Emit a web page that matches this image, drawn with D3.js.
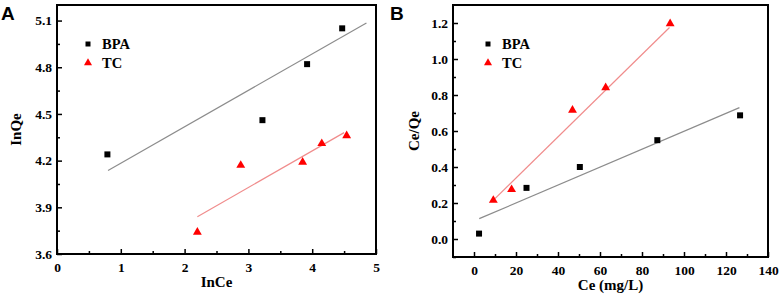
<!DOCTYPE html>
<html>
<head>
<meta charset="utf-8">
<script src="https://cdn.jsdelivr.net/npm/d3@7"></script>
<style>
  body { margin: 0; background: #fff; }
  .tick text { font-family: "Liberation Serif", "Times New Roman", serif; font-weight: bold; font-size: 13.5px; fill: #000; }
  .title { font-family: "Liberation Serif", "Times New Roman", serif; font-weight: bold; font-size: 15px; }
  .legend { font-family: "Liberation Serif", "Times New Roman", serif; font-weight: bold; font-size: 14.5px; }
  .panel { font-family: "Liberation Sans", Arial, sans-serif; font-weight: bold; font-size: 19px; }
</style>
</head>
<body>
<div id="chart"></div>
<script>
// Panel A: Freundlich (lnQe vs lnCe)
const aBpaX = [0.79, 3.22, 3.92, 4.47];
const aBpaY = [4.24, 4.46, 4.82, 5.05];
const aTcX = [2.20, 2.88, 3.85, 4.15, 4.54];
const aTcY = [3.74, 4.17, 4.19, 4.31, 4.36];
const aBpaFitX = [0.8, 4.85];
const aBpaFitY = [4.137, 5.084];
const aTcFitX = [2.2, 4.5];
const aTcFitY = [3.84, 4.38];
const aXTicks = [0, 1, 2, 3, 4, 5];
const aXMinor = [0.5, 1.5, 2.5, 3.5, 4.5];
const aYTicks = [3.6, 3.9, 4.2, 4.5, 4.8, 5.1];
const aYMinor = [3.75, 4.05, 4.35, 4.65, 4.95];

// Panel B: Langmuir (Ce/Qe vs Ce)
const bBpaX = [2.4, 25, 50.4, 87.3, 126.7];
const bBpaY = [0.03, 0.284, 0.40, 0.549, 0.687];
const bTcX = [9.2, 17.9, 46.9, 62.7, 93.4];
const bTcY = [0.215, 0.275, 0.716, 0.841, 1.196];
const bBpaFitX = [2.5, 126.4];
const bBpaFitY = [0.113, 0.73];
const bTcFitX = [9.5, 93.1];
const bTcFitY = [0.219, 1.175];
const bXTicks = [0, 20, 40, 60, 80, 100, 120, 140];
const bXMinor = [10, 30, 50, 70, 90, 110, 130];
const bYTicks = [0.0, 0.2, 0.4, 0.6, 0.8, 1.0, 1.2];
const bYMinor = [-0.1, 0.1, 0.3, 0.5, 0.7, 0.9, 1.1];

const legendNames = ["BPA", "TC"];

const svg = d3.select("#chart").append("svg")
  .attr("width", 782)
  .attr("height", 297);

const drawPanel = (p) => {
  const x = d3.scaleLinear().domain(p.xDomain).range([p.left, p.right]);
  const y = d3.scaleLinear().domain(p.yDomain).range([p.bottom, p.top]);
  const g = svg.append("g");

  // minor ticks
  g.append("g")
    .attr("transform", `translate(0,${p.bottom})`)
    .call(d3.axisBottom(x).tickValues(p.xMinor).tickSize(-3).tickFormat(""))
    .call(a => a.select(".domain").remove());
  g.append("g")
    .attr("transform", `translate(${p.left},0)`)
    .call(d3.axisLeft(y).tickValues(p.yMinor).tickSize(-3).tickFormat(""))
    .call(a => a.select(".domain").remove());

  // major ticks
  g.append("g")
    .attr("transform", `translate(0,${p.bottom})`)
    .call(d3.axisBottom(x).tickValues(p.xTicks).tickSize(-5).tickPadding(8).tickFormat(p.xFmt))
    .call(a => a.select(".domain").remove());
  g.append("g")
    .attr("transform", `translate(${p.left},0)`)
    .call(d3.axisLeft(y).tickValues(p.yTicks).tickSize(-5).tickPadding(5).tickFormat(p.yFmt))
    .call(a => a.select(".domain").remove());
  g.selectAll(".tick line").attr("stroke", "#000").attr("stroke-width", 1.5);

  // frame
  g.append("rect")
    .attr("x", p.left).attr("y", p.top)
    .attr("width", p.right - p.left).attr("height", p.bottom - p.top)
    .attr("fill", "none").attr("stroke", "#000").attr("stroke-width", 2);

  // fit lines
  const line = d3.line().x(d => x(d[0])).y(d => y(d[1]));
  g.append("path").datum(d3.zip(p.bpaFitX, p.bpaFitY))
    .attr("d", line).attr("stroke", "#8c8c8c").attr("stroke-width", 1.2).attr("fill", "none");
  g.append("path").datum(d3.zip(p.tcFitX, p.tcFitY))
    .attr("d", line).attr("stroke", "#f08c8c").attr("stroke-width", 1.2).attr("fill", "none");

  // points
  const sq = d3.symbol().type(d3.symbolSquare).size(36);
  const tri = d3.symbol().type(d3.symbolTriangle).size(34);
  g.selectAll(".bpa").data(d3.zip(p.bpaX, p.bpaY)).enter().append("path")
    .attr("d", sq).attr("transform", d => `translate(${x(d[0])},${y(d[1])})`).attr("fill", "#000");
  g.selectAll(".tc").data(d3.zip(p.tcX, p.tcY)).enter().append("path")
    .attr("d", tri).attr("transform", d => `translate(${x(d[0])},${y(d[1])})`).attr("fill", "#f00");

  // legend
  const leg = g.append("g").attr("transform", `translate(${p.legX},${p.legY})`);
  leg.append("path").attr("d", d3.symbol().type(d3.symbolSquare).size(25)).attr("fill", "#000");
  leg.append("path").attr("d", d3.symbol().type(d3.symbolTriangle).size(28))
    .attr("transform", "translate(0,19)").attr("fill", "#f00");
  leg.selectAll("text").data(legendNames).enter().append("text")
    .attr("class", "legend").attr("x", 14).attr("y", (d, i) => i * 19 + 5)
    .text(d => d);

  // titles
  g.append("text").attr("class", "title").attr("text-anchor", "middle")
    .attr("x", (p.left + p.right) / 2).attr("y", p.bottom + 33).text(p.xTitle);
  g.append("text").attr("class", "title").attr("text-anchor", "middle")
    .attr("transform", `translate(${p.yTitleX},${(p.top + p.bottom) / 2}) rotate(-90)`)
    .text(p.yTitle);
  g.append("text").attr("class", "panel").attr("x", p.panelX).attr("y", 20).text(p.panel);
};

drawPanel({
  left: 57, right: 376, top: 5, bottom: 254,
  xDomain: [0, 5], yDomain: [3.6, 5.2],
  xTicks: aXTicks, xMinor: aXMinor, yTicks: aYTicks, yMinor: aYMinor,
  xFmt: d3.format("d"), yFmt: d3.format(".1f"),
  bpaX: aBpaX, bpaY: aBpaY, tcX: aTcX, tcY: aTcY,
  bpaFitX: aBpaFitX, bpaFitY: aBpaFitY, tcFitX: aTcFitX, tcFitY: aTcFitY,
  legX: 88, legY: 44,
  xTitle: "InCe", yTitle: "InQe", yTitleX: 21,
  panel: "A", panelX: 1
});

drawPanel({
  left: 453, right: 768, top: 5, bottom: 257,
  xDomain: [-10, 140], yDomain: [-0.1, 1.3],
  xTicks: bXTicks, xMinor: bXMinor, yTicks: bYTicks, yMinor: bYMinor,
  xFmt: d3.format("d"), yFmt: d3.format(".1f"),
  bpaX: bBpaX, bpaY: bBpaY, tcX: bTcX, tcY: bTcY,
  bpaFitX: bBpaFitX, bpaFitY: bBpaFitY, tcFitX: bTcFitX, tcFitY: bTcFitY,
  legX: 488, legY: 44,
  xTitle: "Ce (mg/L)", yTitle: "Ce/Qe", yTitleX: 419,
  panel: "B", panelX: 390
});
</script>
</body>
</html>
